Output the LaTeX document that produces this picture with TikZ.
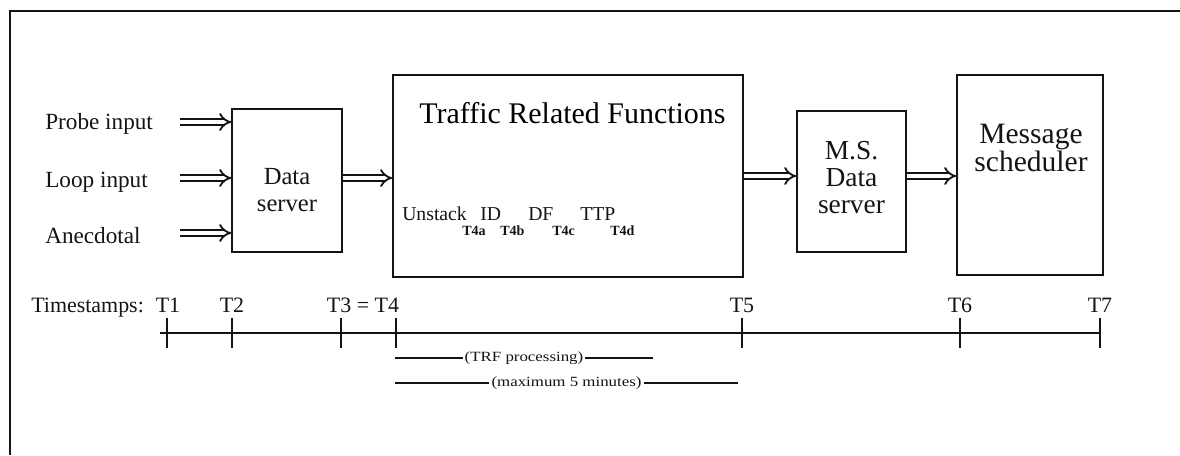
\documentclass[tikz,border=0pt]{standalone}
\usepackage{fontspec}
\setmainfont{Liberation Serif}
\newfontfamily\durfont[FakeStretch=1.2]{Liberation Serif}
\usepackage{xcolor}
\usetikzlibrary{arrows.meta,positioning,calc}
\definecolor{inkblack}{RGB}{20,20,20}
\tikzset{
  blockbox/.style={draw=inkblack, line width=1pt, inner sep=0pt},
  boxtxt/.style  ={align=center, inner sep=0pt, text=inkblack,
                   font=\fontsize{#1}{19.2}\selectfont},
  boxtxt/.default=17.5,
  inlbl/.style   ={anchor=base west, inner sep=0pt, text=inkblack,
                   font=\fontsize{16.5}{18}\selectfont},
  fnword/.style  ={anchor=base west, inner sep=0pt, text=inkblack,
                   font=\fontsize{14}{16}\selectfont},
  fnsub/.style   ={anchor=base west, inner sep=0pt, text=inkblack,
                   font=\bfseries\fontsize{10}{11}\selectfont},
  tslbl/.style   ={anchor=base, inner sep=0pt, text=inkblack,
                   font=\fontsize{15.6}{17}\selectfont},
  durtxt/.style  ={fill=white, inner sep=1.5pt, text=inkblack,
                   font=\durfont\fontsize{10}{11}\selectfont},
  dblarr/.style  ={double=white, double distance=3pt, line width=1.3pt,
                   draw=inkblack, -{Implies[scale=1.5]}},
  framel/.style  ={line width=1.2pt, draw=inkblack},
  axisln/.style  ={line width=1.3pt, draw=inkblack},
  tickln/.style  ={line width=0.8pt, draw=inkblack},
  durln/.style   ={line width=0.9pt, draw=inkblack},
}
\begin{document}
\begin{tikzpicture}[x=0.025cm,y=-0.025cm]
  \useasboundingbox (0,0) rectangle (1180,455);
  \draw[framel] (10,455) -- (10,11) -- (1180,11);
  %% blocks
  \node[blockbox, minimum width=2.75cm,  minimum height=3.575cm] (ds)     at (287,180.5) {};
  \node[blockbox, minimum width=8.75cm,  minimum height=5.05cm]  (trf)    at (568,176)   {};
  \node[blockbox, minimum width=2.725cm, minimum height=3.525cm] (msds)   at (851.5,181.5) {};
  \node[blockbox, minimum width=3.65cm,  minimum height=5cm]     (msched) at (1030,175)  {};
  \node[boxtxt] (dstxt) at (287,190) {Data\\server};
  \node[boxtxt=19.5] (msdstxt) at (851.5,178) {M.S.\\Data\\server};
  \node[boxtxt=21, font=\fontsize{21}{18.5}\selectfont] (mschedtxt) at (1031,148) {Message\\scheduler};
  \node[anchor=base, inner sep=0pt, font=\fontsize{21.3}{24}\selectfont] (trftxt) at (572.5,123) {Traffic Related Functions};
  %% functions inside TRF
  \node[fnword] (unst) at (402,220) {Unstack};
  \node[fnsub]  (sa)   at (462,235) {T4a};
  \node[fnword] (id)   at (480,220) {ID};
  \node[fnsub]  (sb)   at (500,235) {T4b};
  \node[fnword] (df)   at (528,220) {DF};
  \node[fnsub]  (sc)   at (552,235) {T4c};
  \node[fnword] (ttp)  at (580,220) {TTP};
  \node[fnsub]  (sd)   at (610,235) {T4d};
  %% inputs
  \node[inlbl] (probe) at (45,129) {Probe input};
  \node[inlbl] (loop)  at (45,187) {Loop input};
  \node[inlbl] (anec)  at (45,243) {Anecdotal};
  \coordinate (pin) at (180,122);
  \coordinate (lin) at (180,178);
  \coordinate (ain) at (180,233);
  \draw[dblarr] (pin) -- (pin -| ds.west);
  \draw[dblarr] (lin) -- (lin -| ds.west);
  \draw[dblarr] (ain) -- (ain -| ds.west);
  \draw[dblarr] (ds.east |- lin) -- (trf.west |- lin);
  \draw[dblarr] (trf.east) -- (trf.east -| msds.west);
  \draw[dblarr] (msds.east |- trf.east) -- (msched.west |- trf.east);
  %% timeline
  \node[tslbl, anchor=base west] (tsl) at (31,312) {Timestamps:};
  \coordinate (t0) at (160,333);
  \foreach \n/\x in {1/167,2/232,3/341,4/396,5/742,6/960,7/1100}{
    \coordinate (t\n) at (\x,333);
    \draw[tickln] ($(t\n)+(0,-15)$) -- ($(t\n)+(0,15)$);
  }
  \draw[axisln] (t0) -- (t7);
  \node[tslbl] (lt1)  at (168,312)  {T1};
  \node[tslbl] (lt2)  at (232,312)  {T2};
  \node[tslbl] (lt34) at (363,312)  {T3 = T4};
  \node[tslbl] (lt5)  at (742,312)  {T5};
  \node[tslbl] (lt6)  at (960,312)  {T6};
  \node[tslbl] (lt7)  at (1100,312) {T7};
  %% durations
  \coordinate (trfa) at (395,358);
  \coordinate (trfb) at (653,358);
  \coordinate (maxa) at (395,383);
  \coordinate (maxb) at (738,383);
  \draw[durln] (trfa) -- node[durtxt] (trfp) {(TRF processing)} (trfb);
  \draw[durln] (maxa) -- node[durtxt] (maxp) {(maximum 5 minutes)} (maxb);
\end{tikzpicture}
\end{document}
